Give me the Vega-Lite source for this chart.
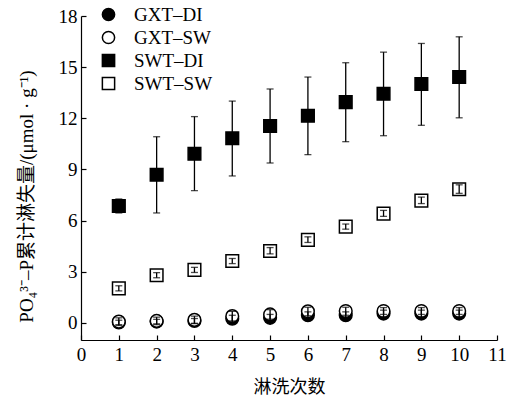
{
  "$schema": "https://vega.github.io/schema/vega-lite/v6.json",
  "width": 416,
  "height": 324,
  "autosize": "none",
  "padding": {"left": 81, "top": 16, "right": 10, "bottom": 67},
  "background": "white",
  "config": {
    "font": "Liberation Serif",
    "view": {"stroke": null},
    "axis": {"grid": false, "domainColor": "black", "tickColor": "black", "labelColor": "black", "titleColor": "black", "labelFont": "Liberation Serif", "labelFontSize": 19, "titleFontWeight": "normal", "domainWidth": 1.2, "tickWidth": 1.2},
    "legend": {"title": null, "orient": "none", "legendX": 18, "legendY": -11, "labelFontSize": 19, "labelFont": "Liberation Serif", "symbolSize": 150, "symbolStrokeWidth": 1.5, "rowPadding": 3, "labelOffset": 16, "labelColor": "black"}
  },
  "data": {
    "values": [
      {"s": "GXT–DI", "x": 1, "m": 0.03, "lo": -0.1, "hi": 0.16},
      {"s": "GXT–DI", "x": 2, "m": 0.08, "lo": -0.05, "hi": 0.21},
      {"s": "GXT–DI", "x": 3, "m": 0.12, "lo": -0.02, "hi": 0.26},
      {"s": "GXT–DI", "x": 4, "m": 0.25, "lo": 0.05, "hi": 0.45},
      {"s": "GXT–DI", "x": 5, "m": 0.3, "lo": 0.1, "hi": 0.5},
      {"s": "GXT–DI", "x": 6, "m": 0.45, "lo": 0.25, "hi": 0.65},
      {"s": "GXT–DI", "x": 7, "m": 0.45, "lo": 0.25, "hi": 0.65},
      {"s": "GXT–DI", "x": 8, "m": 0.55, "lo": 0.35, "hi": 0.75},
      {"s": "GXT–DI", "x": 9, "m": 0.55, "lo": 0.35, "hi": 0.75},
      {"s": "GXT–DI", "x": 10, "m": 0.55, "lo": 0.35, "hi": 0.75},
      {"s": "GXT–SW", "x": 1, "m": 0.08, "lo": -0.15, "hi": 0.3},
      {"s": "GXT–SW", "x": 2, "m": 0.12, "lo": -0.1, "hi": 0.34},
      {"s": "GXT–SW", "x": 3, "m": 0.18, "lo": -0.04, "hi": 0.4},
      {"s": "GXT–SW", "x": 4, "m": 0.4, "lo": 0.12, "hi": 0.68},
      {"s": "GXT–SW", "x": 5, "m": 0.5, "lo": 0.22, "hi": 0.78},
      {"s": "GXT–SW", "x": 6, "m": 0.68, "lo": 0.42, "hi": 0.92},
      {"s": "GXT–SW", "x": 7, "m": 0.7, "lo": 0.45, "hi": 0.92},
      {"s": "GXT–SW", "x": 8, "m": 0.7, "lo": 0.5, "hi": 0.9},
      {"s": "GXT–SW", "x": 9, "m": 0.7, "lo": 0.5, "hi": 0.9},
      {"s": "GXT–SW", "x": 10, "m": 0.7, "lo": 0.5, "hi": 0.9},
      {"s": "SWT–DI", "x": 1, "m": 6.86, "lo": 6.45, "hi": 7.27},
      {"s": "SWT–DI", "x": 2, "m": 8.69, "lo": 6.45, "hi": 10.92},
      {"s": "SWT–DI", "x": 3, "m": 9.92, "lo": 7.76, "hi": 12.1},
      {"s": "SWT–DI", "x": 4, "m": 10.83, "lo": 8.62, "hi": 13.01},
      {"s": "SWT–DI", "x": 5, "m": 11.55, "lo": 9.38, "hi": 13.72},
      {"s": "SWT–DI", "x": 6, "m": 12.15, "lo": 9.87, "hi": 14.42},
      {"s": "SWT–DI", "x": 7, "m": 12.95, "lo": 10.63, "hi": 15.26},
      {"s": "SWT–DI", "x": 8, "m": 13.44, "lo": 10.98, "hi": 15.88},
      {"s": "SWT–DI", "x": 9, "m": 14.01, "lo": 11.59, "hi": 16.39},
      {"s": "SWT–DI", "x": 10, "m": 14.42, "lo": 12.03, "hi": 16.78},
      {"s": "SWT–SW", "x": 1, "m": 2.03, "lo": 1.88, "hi": 2.18},
      {"s": "SWT–SW", "x": 2, "m": 2.8, "lo": 2.65, "hi": 2.95},
      {"s": "SWT–SW", "x": 3, "m": 3.11, "lo": 2.96, "hi": 3.26},
      {"s": "SWT–SW", "x": 4, "m": 3.63, "lo": 3.48, "hi": 3.78},
      {"s": "SWT–SW", "x": 5, "m": 4.22, "lo": 4.05, "hi": 4.42},
      {"s": "SWT–SW", "x": 6, "m": 4.87, "lo": 4.72, "hi": 5.05},
      {"s": "SWT–SW", "x": 7, "m": 5.65, "lo": 5.5, "hi": 5.8},
      {"s": "SWT–SW", "x": 8, "m": 6.41, "lo": 6.25, "hi": 6.6},
      {"s": "SWT–SW", "x": 9, "m": 7.17, "lo": 7.0, "hi": 7.38},
      {"s": "SWT–SW", "x": 10, "m": 7.84, "lo": 7.6, "hi": 8.1}
    ]
  },
  "encoding": {
    "x": {"field": "x", "type": "quantitative", "scale": {"domain": [0, 11], "nice": false, "zero": false},
      "axis": {"values": [0,1,2,3,4,5,6,7,8,9,10,11], "labelExpr": "datum.label", "labelOverlap": false, "labelSeparation": -30, "labelFlush": false, "labelBound": false,
        "tickSize": {"condition": {"test": "datum.value >= 0", "value": -5}, "value": -5},
        "labelPadding": 10, "title": "淋洗次数", "titlePadding": 14, "titleFont": "Noto Sans CJK SC", "titleFontSize": 18}}
  },
  "layer": [
    {
      "mark": {"type": "point", "filled": true, "opacity": 1, "strokeWidth": 1.5, "size": 160},
      "encoding": {
        "y": {"field": "m", "type": "quantitative", "scale": {"domain": [-1, 18], "nice": false, "zero": false},
          "axis": {"values": [0,1.5,3,4.5,6,7.5,9,10.5,12,13.5,15,16.5,18],
            "labelOverlap": false, "labelFlush": false,
            "labelExpr": "datum.value % 3 === 0 ? datum.label : ''",
            "tickSize": {"condition": {"test": "datum.value % 3 === 0", "value": -5}, "value": -3},
            "labelPadding": 9, "title": "PO₄³⁻–P累计淋失量/(μmol · g⁻¹)", "titlePadding": 22, "titleFont": "Liberation Serif, Noto Sans CJK SC", "titleFontSize": 19, "titleY": 180}},
        "shape": {"field": "s", "type": "nominal",
          "scale": {"domain": ["GXT–DI", "GXT–SW", "SWT–DI", "SWT–SW"], "range": ["circle", "circle", "square", "square"]}},
        "fill": {"field": "s", "type": "nominal",
          "scale": {"domain": ["GXT–DI", "GXT–SW", "SWT–DI", "SWT–SW"], "range": ["black", "white", "black", "white"]}},
        "stroke": {"field": "s", "type": "nominal",
          "scale": {"domain": ["GXT–DI", "GXT–SW", "SWT–DI", "SWT–SW"], "range": ["black", "black", "black", "black"]}}
      }
    },
    {
      "mark": {"type": "rule", "color": "black", "strokeWidth": 1.3},
      "encoding": {
        "y": {"field": "lo", "type": "quantitative"},
        "y2": {"field": "hi"}
      }
    },
    {
      "mark": {"type": "tick", "color": "black", "thickness": 1.3, "size": 7, "orient": "horizontal"},
      "encoding": {
        "y": {"field": "hi", "type": "quantitative"}
      }
    },
    {
      "mark": {"type": "tick", "color": "black", "thickness": 1.3, "size": 7, "orient": "horizontal"},
      "encoding": {
        "y": {"field": "lo", "type": "quantitative"}
      }
    }
  ]
}
